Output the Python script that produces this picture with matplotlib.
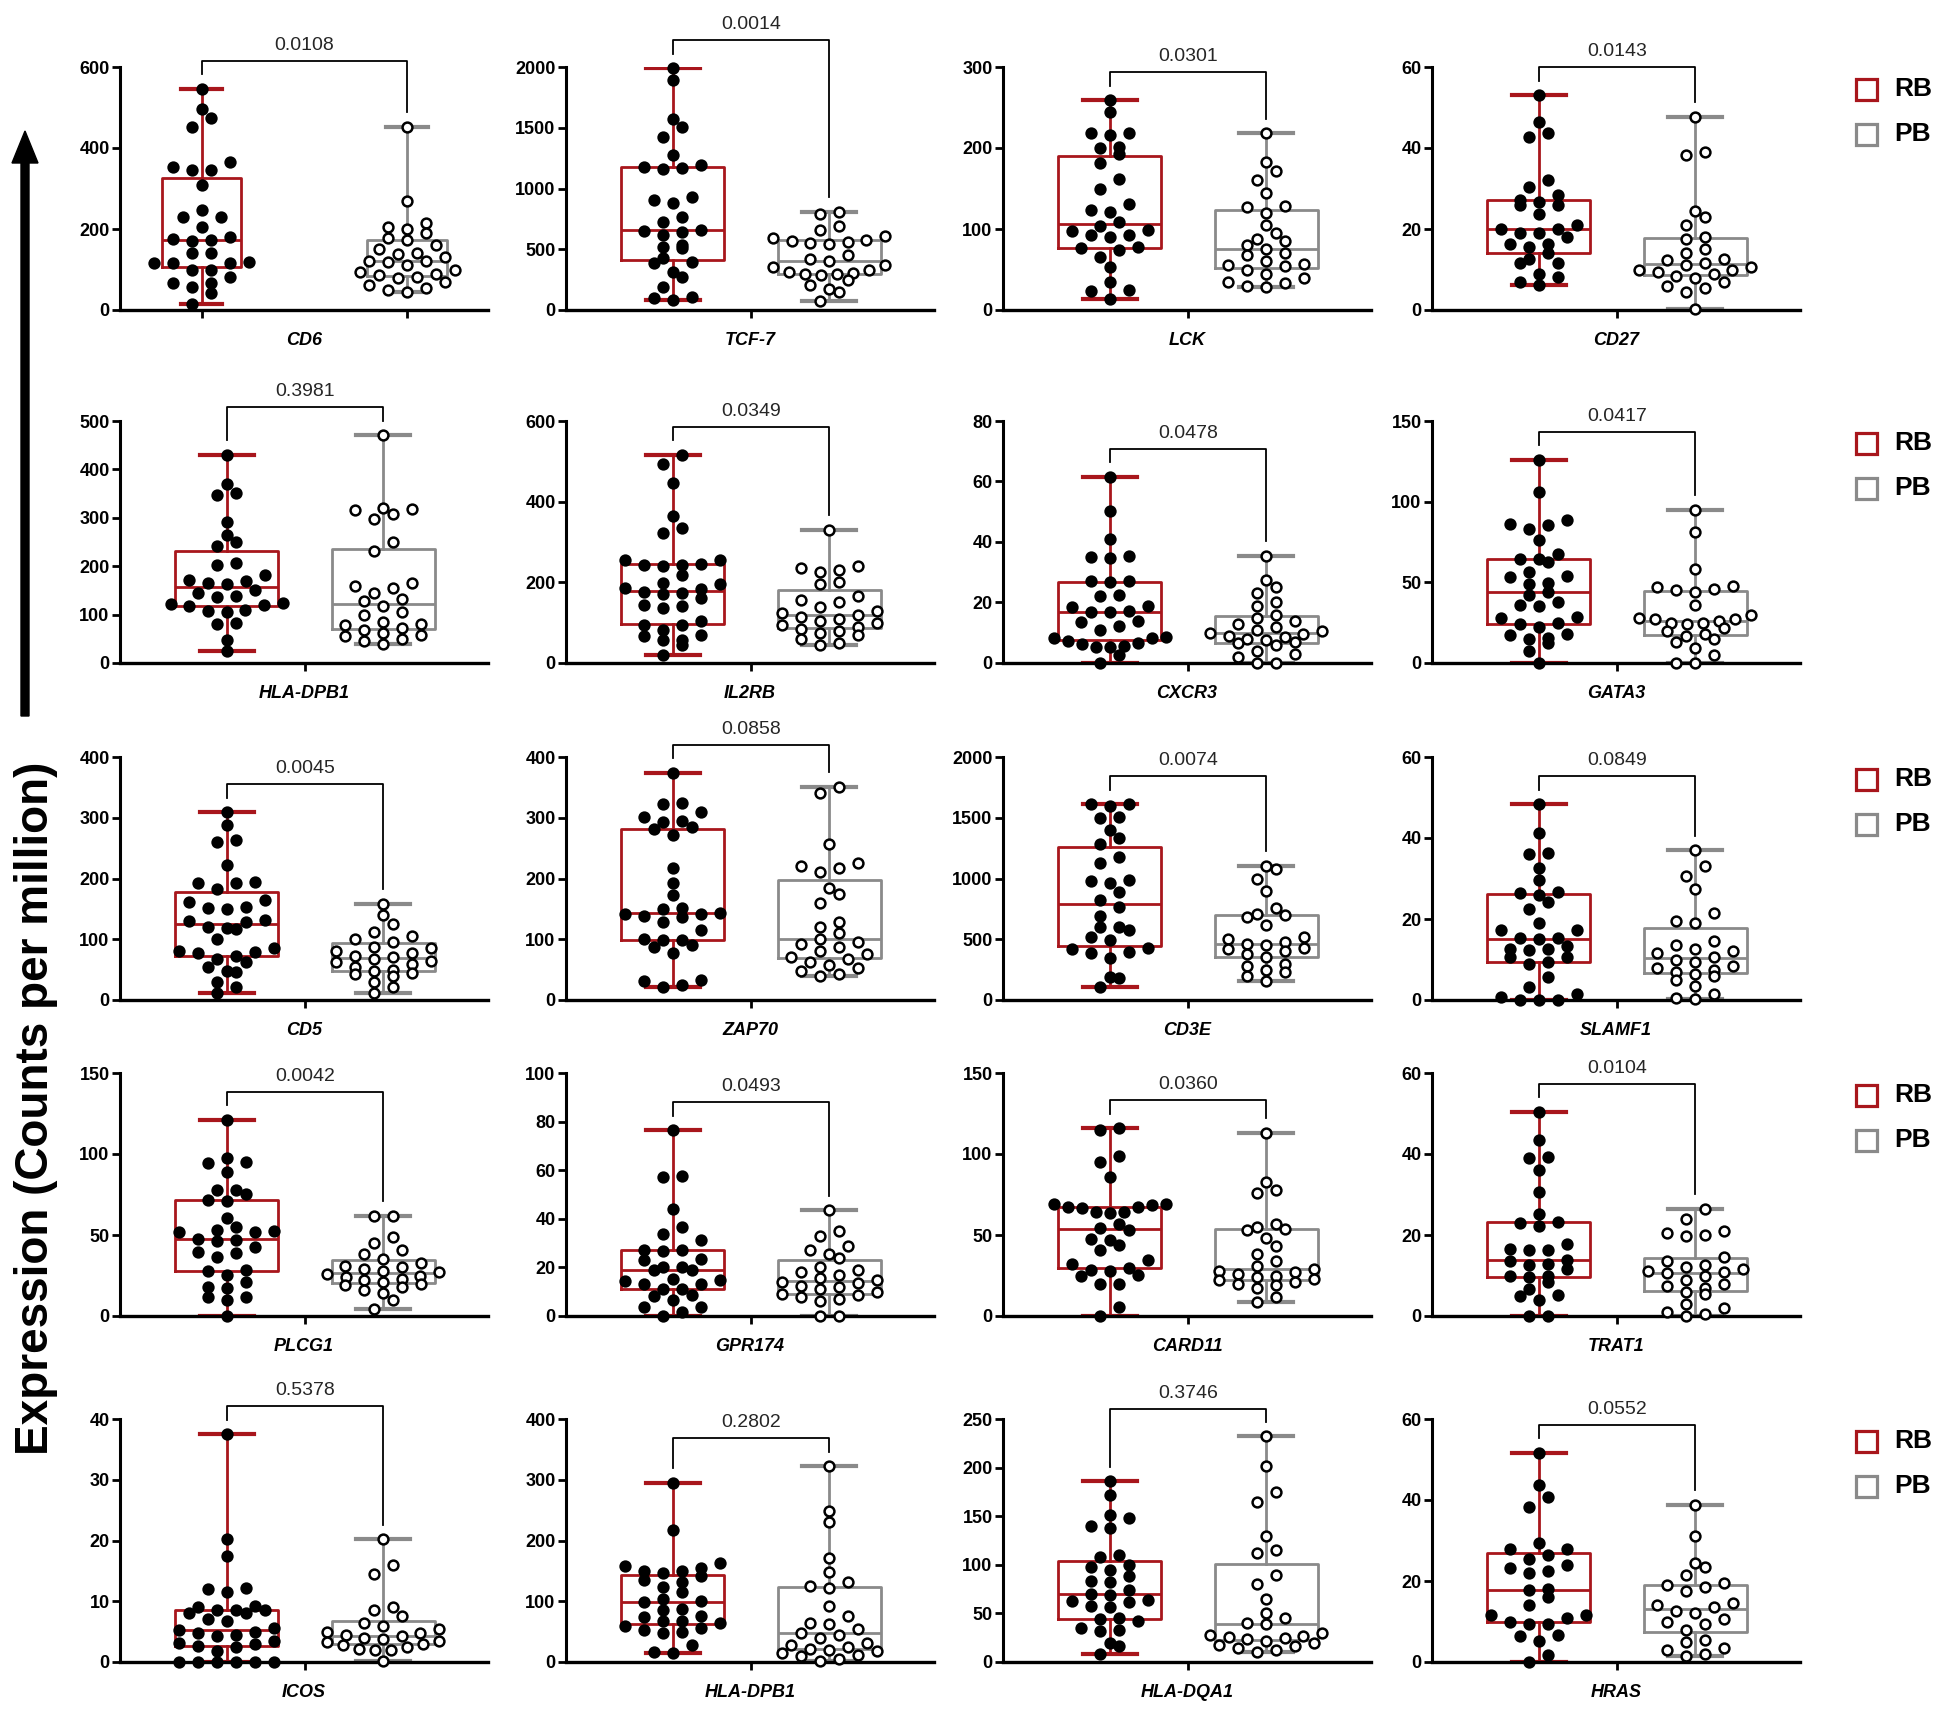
import numpy as np
import matplotlib
matplotlib.use("Agg")
import matplotlib.pyplot as plt
from matplotlib.patches import FancyArrow, Rectangle

plt.rcParams['font.family'] = ['Liberation Sans', 'DejaVu Sans']

# ---------------- data ----------------
genes = ["CD6", "TCF-7", "LCK", "CD27",
         "HLA-DPB1", "IL2RB", "CXCR3", "GATA3",
         "CD5", "ZAP70", "CD3E", "SLAMF1",
         "PLCG1", "GPR174", "CARD11", "TRAT1",
         "ICOS", "HLA-DPB1", "HLA-DQA1", "HRAS"]
p_values = ["0.0108", "0.0014", "0.0301", "0.0143",
            "0.3981", "0.0349", "0.0478", "0.0417",
            "0.0045", "0.0858", "0.0074", "0.0849",
            "0.0042", "0.0493", "0.0360", "0.0104",
            "0.5378", "0.2802", "0.3746", "0.0552"]
y_max = [600, 2000, 300, 60,
         500, 600, 80, 150,
         400, 400, 2000, 60,
         150, 100, 150, 60,
         40, 400, 250, 60]
y_step = [200, 500, 100, 20,
          100, 200, 20, 50,
          100, 100, 500, 20,
          50, 20, 50, 20,
          10, 100, 50, 20]
groups = ["RB", "PB"]

cd6_rb = [546, 497, 475, 452, 366, 353, 345, 345, 308, 247, 230, 230, 205, 181, 176, 174, 170, 140, 140, 119, 115, 115, 115, 99, 99, 82, 66, 66, 58, 41, 16]
cd6_pb = [452, 270, 215, 205, 200, 190, 178, 172, 160, 150, 140, 138, 130, 122, 120, 118, 110, 100, 95, 90, 86, 82, 78, 70, 62, 55, 50, 45]
tcf7_rb = [1990, 1890, 1575, 1507, 1425, 1274, 1192, 1178, 1170, 1160, 932, 904, 877, 767, 726, 658, 650, 644, 617, 534, 521, 507, 425, 397, 390, 315, 274, 192, 110, 95, 82]
tcf7_pb = [810, 790, 690, 660, 610, 590, 580, 570, 560, 555, 545, 450, 420, 400, 370, 350, 330, 310, 305, 300, 295, 285, 250, 205, 175, 150, 70]
lck_rb = [259, 245, 218, 218, 216, 201, 200, 193, 181, 162, 150, 131, 123, 121, 109, 104, 99, 97, 92, 92, 90, 78, 76, 74, 66, 53, 35, 25, 24, 14]
lck_pb = [218, 183, 172, 160, 145, 128, 127, 120, 105, 95, 88, 85, 80, 75, 70, 68, 60, 57, 55, 54, 50, 45, 40, 35, 33, 30, 28]
cd27_rb = [53, 46.4, 43.6, 42.7, 32, 30.4, 28.4, 27.1, 26.7, 25.9, 25.9, 23.8, 21, 20.1, 20.1, 18.9, 18.9, 18.1, 16.4, 16.4, 15.6, 14, 12.7, 11.5, 11.5, 9, 8.2, 7, 6.2]
cd27_pb = [47.7, 39, 38.2, 24.5, 23, 21, 18, 17.5, 15, 14, 12.7, 12.3, 11.5, 11, 10.5, 10, 9.8, 9.5, 9, 8.5, 8, 7, 6, 5.5, 4.5, 0.3]

hladpb1_rb = [430, 369, 351, 347, 292, 265, 249, 241, 206, 203, 182, 172, 170, 166, 164, 151, 144, 138, 136, 124, 122, 120, 117, 110, 107, 105, 83, 80, 48, 25]
hladpb1_pb = [471, 320, 318, 316, 308, 298, 250, 232, 165, 160, 155, 145, 133, 128, 117, 105, 100, 85, 80, 78, 72, 68, 62, 58, 55, 50, 45, 40]
il2rb_rb = [516, 493, 446, 365, 334, 322, 256, 256, 245, 243, 242, 240, 219, 198, 196, 186, 184, 175, 173, 171, 161, 144, 142, 136, 103, 95, 93, 83, 70, 68, 58, 56, 45, 21]
il2rb_pb = [330, 240, 235, 230, 225, 200, 195, 165, 155, 150, 140, 130, 125, 120, 115, 110, 105, 100, 95, 90, 85, 80, 75, 70, 60, 50, 45]
cxcr3_rb = [61.6, 50.4, 41.1, 35.4, 35.2, 34.8, 27.2, 27, 26.8, 22.6, 22.2, 18.7, 18.4, 17.1, 17.0, 16.8, 13.8, 13.6, 12.1, 11, 8.5, 8.3, 8.1, 7.2, 6.6, 6.4, 5.5, 5.4, 5.2, 2.8, 0]
cxcr3_pb = [35.4, 27.5, 25, 23, 20, 19, 16, 15, 14, 13, 12, 11, 10.5, 10, 9.5, 9, 8.5, 8, 7.5, 7, 6.5, 6, 4, 3, 2, 0, 0]
gata3_rb = [126, 106, 88.8, 86.3, 85.5, 83.2, 76.4, 67.8, 64.7, 64.2, 62.3, 56.5, 53.8, 53, 49.3, 48.8, 44.2, 42.1, 38, 36, 35.5, 28.8, 28, 24.7, 24, 22.6, 18.1, 17.5, 15.4, 15, 12.3, 7.2, 0]
gata3_pb = [95, 81, 58, 48, 47, 46, 45, 44, 36, 30, 28, 27.5, 27, 26, 25, 24.5, 24, 22, 20, 18, 17, 15, 13, 9, 5, 0, 0]

cd5_rb = [309, 288, 263, 260, 223, 195, 193, 192, 182, 164, 162, 153, 152, 150, 132, 130, 129, 120, 118, 117, 100, 85, 80, 79, 77, 72, 68, 63, 55, 48, 46, 30, 22, 12]
cd5_pb = [158, 140, 125, 112, 105, 100, 95, 88, 85, 80, 78, 72, 70, 68, 65, 62, 60, 55, 50, 48, 45, 42, 40, 30, 22, 12]
zap70_rb = [374, 325, 323, 310, 301, 295, 293, 285, 281, 271, 218, 192, 173, 152, 150, 143, 142, 141, 138, 136, 129, 115, 100, 99, 98, 90, 88, 77, 33, 31, 25, 22]
zap70_pb = [351, 341, 256, 225, 220, 218, 210, 185, 175, 160, 128, 120, 110, 100, 95, 92, 88, 80, 75, 70, 68, 62, 58, 52, 48, 42, 40]
cd3e_rb = [1611, 1610, 1598, 1507, 1500, 1397, 1337, 1288, 1178, 1129, 986, 980, 959, 890, 822, 762, 690, 603, 600, 575, 521, 493, 425, 420, 397, 384, 342, 192, 178, 104]
cd3e_pb = [1104, 1080, 1000, 900, 760, 710, 700, 680, 620, 520, 500, 480, 460, 450, 430, 420, 400, 380, 350, 300, 280, 250, 230, 200, 160]
slamf1_rb = [48.3, 41.3, 36.2, 36, 32.5, 29.6, 26.7, 26.5, 25.9, 24.2, 22.4, 19.1, 17.4, 17.2, 15.4, 15.2, 15, 13.3, 12.7, 12.5, 12.3, 10.7, 10.5, 9.5, 9, 5.8, 3.3, 1.6, 0.8, 0, 0, 0]
slamf1_pb = [37, 33, 30.5, 27.5, 21.5, 19.5, 19, 14.5, 13.5, 12.5, 12, 11.5, 10.5, 10, 9.5, 8.5, 8, 7.5, 7, 6.5, 6, 5, 3.5, 1.5, 0.5, 0.2]

plcg1_rb = [121, 97.8, 95, 94.5, 88.9, 78, 77.6, 75.5, 71.4, 71, 60.7, 55, 52.9, 52.5, 52, 51.9, 47.7, 47, 46.3, 42.6, 39.5, 39, 36.4, 28.6, 28, 25.1, 21, 17.9, 17.5, 11.7, 11.5, 10, 0]
plcg1_pb = [62, 61.5, 49, 45, 41, 38, 35, 33, 31, 30, 29, 28, 27, 26, 25, 24, 23, 22, 21, 20, 19, 18, 16, 14, 10, 4.5]
gpr174_rb = [76.4, 57.5, 57, 43.9, 36.6, 33.6, 31.1, 27.2, 27, 26.8, 23.6, 23.2, 20.2, 20, 19.1, 18.8, 15.4, 15, 14.6, 13.3, 13, 11.3, 11, 8.5, 8.2, 6.4, 3.7, 3.5, 1.6, 0]
gpr174_pb = [43.5, 35, 33, 29, 27, 25.5, 24, 20, 19, 18, 17, 15.5, 15, 14, 13.5, 12.5, 12, 11, 10, 9, 8.5, 8, 7, 6, 0, 0]
card11_rb = [116, 115, 98.6, 95, 85.8, 69.4, 69, 68.3, 67.3, 67, 66.5, 64.2, 64, 63.5, 57, 54.5, 52.9, 47.7, 47, 43.6, 40.5, 34.4, 32.3, 29.8, 28.6, 28, 25.1, 25, 20, 19.5, 5.6, 0]
card11_pb = [113, 83, 78, 76, 57, 55, 54, 53, 48, 43, 38, 34, 31, 29, 28, 27, 26, 25, 24, 23, 22, 21, 20, 19, 17, 12, 8.6]
trat1_rb = [50.4, 43.5, 39.3, 39, 36, 30.6, 25.3, 23.2, 23, 22.1, 17.9, 16.6, 16.4, 16.2, 13.9, 13.7, 12.9, 12.7, 11.5, 10, 9.9, 9.6, 8.5, 6.7, 5.1, 5, 3.9, 0, 0]
trat1_pb = [26.5, 24, 21, 20.5, 20, 19.8, 14.5, 13.5, 12.5, 12, 11.5, 11, 10.8, 10.5, 10, 9, 8, 7.5, 7, 6, 5.5, 3, 2, 1, 0.5, 0]

icos_rb = [37.5, 20.2, 17.5, 12.2, 12, 11.6, 9.2, 9, 8.6, 8.6, 8.5, 8.1, 8, 7, 6.8, 5.6, 5.2, 5, 4.8, 4.5, 4.2, 3.5, 3.1, 3, 2.6, 2.4, 1.8, 0, 0, 0, 0, 0, 0]
icos_pb = [20.2, 16, 14.5, 9, 8.5, 7.5, 6.5, 6, 5.5, 5, 4.8, 4.5, 4.2, 4, 3.8, 3.5, 3.3, 3, 2.8, 2.5, 2.2, 2, 2, 0.2]
hladpb1b_rb = [295, 218, 163, 158, 155, 150, 149, 147, 141, 135, 131, 124, 115, 104, 100, 98, 88, 86, 76, 74, 68, 67, 65, 59, 56, 52, 50, 48, 28, 16, 14]
hladpb1b_pb = [322, 248, 230, 172, 148, 132, 125, 122, 92, 75, 65, 63, 55, 48, 45, 40, 32, 28, 25, 22, 20, 18, 15, 12, 10, 5, 2]
hladqa1_rb = [186, 172, 151, 148, 140, 138, 110, 108, 100, 98, 95, 88, 83, 82, 74, 70, 69, 64, 63, 62, 58, 57, 45, 44, 42, 35, 32.5, 32, 20, 16, 8]
hladqa1_pb = [232, 202, 175, 165, 130, 115, 112, 90, 80, 65, 50, 45, 40, 39, 30, 28, 27, 26, 25, 24, 22, 20, 18, 16, 14, 12, 10]
hras_rb = [51.7, 43.7, 40.7, 38.2, 29.3, 27.9, 27.8, 26.5, 25.4, 24, 23.2, 22.4, 22, 18, 17.8, 16, 14.1, 11.7, 11.5, 10.9, 9.9, 9.5, 9.3, 6.7, 6.3, 5.3, 1.8, 0]
hras_pb = [38.8, 31, 24.5, 23.5, 21.5, 19.5, 19, 18.5, 17.5, 14.5, 14, 13.5, 12.5, 12, 10.5, 10, 9.5, 8, 5.5, 5, 3.5, 3, 2, 1.5]

rb_values = [cd6_rb, tcf7_rb, lck_rb, cd27_rb,
             hladpb1_rb, il2rb_rb, cxcr3_rb, gata3_rb,
             cd5_rb, zap70_rb, cd3e_rb, slamf1_rb,
             plcg1_rb, gpr174_rb, card11_rb, trat1_rb,
             icos_rb, hladpb1b_rb, hladqa1_rb, hras_rb]
pb_values = [cd6_pb, tcf7_pb, lck_pb, cd27_pb,
             hladpb1_pb, il2rb_pb, cxcr3_pb, gata3_pb,
             cd5_pb, zap70_pb, cd3e_pb, slamf1_pb,
             plcg1_pb, gpr174_pb, card11_pb, trat1_pb,
             icos_pb, hladpb1b_pb, hladqa1_pb, hras_pb]

# ---------------- layout / style ----------------
W, H = 1949, 1714
RED = "#A8161C"
GREY = "#8A8A8A"
col_left = [120, 566, 1003, 1432]
col_width = 368
row_top = [67, 421, 757, 1073, 1419]
row_bot = [310, 663, 1000, 1316, 1662]
ROW_PX = 10.5     # height of a row of dots (pixels)
COL_PX = 19.0     # horizontal spacing of dots in a row (pixels)
MAX_SPREAD = 112  # maximum width of a row (pixels)

fig = plt.figure(figsize=(W / 100, H / 100), dpi=100)
fig.patch.set_facecolor("white")


def prism_scatter(ypix):
    """Group points into rows ~one dot high and spread each row symmetrically."""
    order = np.argsort(ypix, kind="stable")
    xs = np.zeros(len(ypix))
    rows, cur, start = [], [order[0]], ypix[order[0]]
    for i in order[1:]:
        if ypix[i] - start < ROW_PX:
            cur.append(i)
        else:
            rows.append(cur)
            cur, start = [i], ypix[i]
    rows.append(cur)
    for rw in rows:
        n = len(rw)
        if n == 1:
            continue
        s = min(COL_PX, MAX_SPREAD / (n - 1))
        offs = (np.arange(n) - (n - 1) / 2) * s
        idx = sorted(range(n), key=lambda j: (abs(offs[j]), offs[j]))
        for pt, j in zip(rw, idx):
            xs[pt] = offs[j]
    return xs


for k in range(20):
    r, c = divmod(k, 4)
    left, top, bot = col_left[c], row_top[r], row_bot[r]
    ax = fig.add_axes([left / W, 1 - bot / H, col_width / W, (bot - top) / H])
    if k == 0:
        fr = (0.222, 0.78, 0.215)
        ticks = [1, 2]
    else:
        fr = (0.29, 0.715, 0.28)
        ticks = [1.5]
    unit = fr[1] - fr[0]
    x0 = 1 - fr[0] / unit
    x1 = 2 + (1 - fr[1]) / unit
    bw = fr[2] / unit
    ax.set_xlim(x0, x1)
    ax.set_ylim(0, y_max[k])

    rb = np.array(rb_values[k], float)
    pb = np.array(pb_values[k], float)
    for pos, vals, col in ((1, rb, RED), (2, pb, GREY)):
        lw = 2.0
        ax.boxplot([vals], positions=[pos], widths=bw, whis=(0, 100),
                   showfliers=False, capwidths=bw * 0.52,
                   boxprops=dict(color=col, linewidth=lw),
                   medianprops=dict(color=col, linewidth=lw),
                   whiskerprops=dict(color=col, linewidth=lw),
                   capprops=dict(color=col, linewidth=lw * 1.5),
                   manage_ticks=False, zorder=2)

    px_per_x = col_width / (x1 - x0)
    px_per_y = (bot - top) / y_max[k]
    for pos, vals, face in ((1, rb, "black"), (2, pb, "white")):
        dx = prism_scatter(vals * px_per_y)
        ax.scatter(pos + dx / px_per_x, vals, s=50, facecolor=face,
                   edgecolor="black", linewidth=1.8, zorder=4, clip_on=False)

    # significance bracket
    ym = y_max[k]
    top_y = max(rb.max(), pb.max()) + 0.115 * ym
    ax.plot([1, 1, 2, 2], [rb.max() + 0.06 * ym, top_y, top_y, pb.max() + 0.06 * ym],
            color="black", lw=1.3, clip_on=False, zorder=3)
    ax.annotate(p_values[k], xy=(1.5, top_y), xytext=(0, 5), textcoords="offset points",
                ha="center", va="bottom", fontsize=14, color="#262626",
                annotation_clip=False)

    for s in ("top", "right"):
        ax.spines[s].set_visible(False)
    ax.spines["left"].set_linewidth(2.2)
    ax.spines["bottom"].set_linewidth(2.4)
    tv = np.arange(0, ym + 0.001, y_step[k])
    ax.set_yticks(tv)
    ax.set_yticklabels([f"{int(v)}" for v in tv], fontsize=13, fontweight="bold")
    ax.tick_params(axis="y", length=6, width=2, pad=1.5)
    ax.set_xticks(ticks)
    ax.set_xticklabels([""] * len(ticks))
    ax.tick_params(axis="x", length=6, width=2)
    ax.patch.set_alpha(0)
    ax.annotate(genes[k], xy=(0.5, 0), xycoords="axes fraction", xytext=(0, -22),
                textcoords="offset points", ha="center", va="center",
                fontsize=13, fontweight="bold", fontstyle="italic")

# overlay for arrow, y label and legends
ov = fig.add_axes([0, 0, 1, 1], zorder=-1)
ov.set_xlim(0, W)
ov.set_ylim(H, 0)
ov.axis("off")
ov.add_patch(FancyArrow(25, 716, 0, -(716 - 131), width=8, head_width=26,
                        head_length=32, length_includes_head=True,
                        color="black"))
ov.text(36, 1108, "Expression (Counts per million)", rotation=90, fontsize=33,
        fontweight="bold", ha="center", va="center")
for r in range(5):
    for j, (g, col) in enumerate(zip(groups, (RED, GREY))):
        cy = row_top[r] + 22 + 45 * j
        ov.add_patch(Rectangle((1856, cy - 10.5), 21, 21, fill=False,
                               edgecolor=col, linewidth=2.3))
        ov.text(1894, cy, g, fontsize=19, fontweight="bold", ha="left",
                va="center")

fig.savefig("out.png", dpi=100)
